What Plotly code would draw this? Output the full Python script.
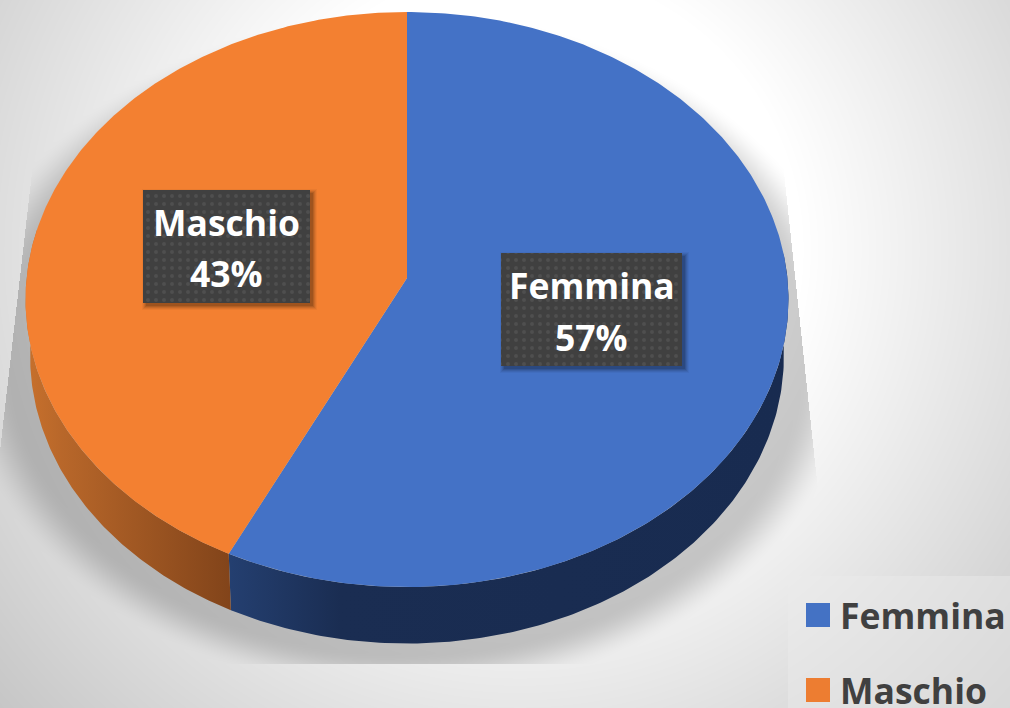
import numpy as np
import plotly.graph_objects as go

# ---- data ----
categories = ["Femmina", "Maschio"]
values = [57.2, 42.8]
top_colors = ["#4472C6", "#F38031"]
legend_colors = ["#4472C4", "#ED7D31"]

W, H = 1010, 708
CX, CY = 407.0, 278.0
A, B, K = 380.4, 285.9, 0.0748
DEPTH, SHRINK = 56.5, 0.988
FONT = "Open Sans"


def project(theta_deg):
    t = np.radians(np.asarray(theta_deg, dtype=float))
    w = 1 + K * np.cos(t)
    return CX + A * np.sin(t) / w, CY - B * np.cos(t) / w


def backdrop():
    yy, xx = np.mgrid[0:H, 0:W] + 0.5
    r = np.hypot(xx - 520, yy - 250)
    bg = np.clip(255 - (r - 280) * 0.138, 0, 255)
    # soft shadow under the pie, clipped to a trapezoid
    rho = np.hypot((xx - CX) / 381, (yy - (CY + 75)) / 290)
    d = (rho - 1) * 340
    s = np.clip(1 - (d - 12) / 50, 0, 1)
    s = s * s * (3 - 2 * s)
    inside = (yy < 664) & (xx < 788 + (yy - 210) * 0.107) & (xx > 30 - (yy - 190) * 0.115)
    out = bg * (1 - 0.2 * s * inside)
    # legend panel
    panel = (xx >= 788) & (yy >= 576)
    out = np.where(panel, 0.55 * bg + 0.45 * 235, out)
    return np.round(out).astype(np.uint8)


fig = go.Figure()
fig.add_trace(go.Heatmap(z=backdrop(), x0=0.5, dx=1, y0=0.5, dy=1,
                         colorscale=[[0, "#000000"], [1, "#ffffff"]], zmin=0, zmax=255,
                         showscale=False, hoverinfo="skip"))

# slice angles from the values
total = sum(values)
edges = np.cumsum([0] + values) / total * 360

# side walls
side_spec = [
    (85.0, edges[1], 230, 783,
     [[0, "#243F70"], [0.2, "#1A2D52"], [1, "#182B50"]]),
    (edges[1], 280.0, 32, 230,
     [[0, "#C56F2C"], [0.15, "#B8672A"], [1, "#82441A"]]),
]
for a0, a1, g0, g1, cs in side_spec:
    th = np.linspace(a0, a1, 160)
    x, y = project(th)
    xl = CX + (x - CX) * SHRINK
    yl = y + DEPTH
    fig.add_trace(go.Scatter(
        x=np.r_[x, xl[::-1]], y=np.r_[y, yl[::-1]], mode="lines", line=dict(width=0),
        fill="toself", fillgradient=dict(type="horizontal", start=g0, stop=g1, colorscale=cs),
        hoverinfo="skip", showlegend=False))

# top faces
for i, name in enumerate(categories):
    th = np.linspace(edges[i], edges[i + 1], 300)
    x, y = project(th)
    fig.add_trace(go.Scatter(
        x=np.r_[CX, x, CX], y=np.r_[CY, y, CY], mode="lines", line=dict(width=0),
        fill="toself", fillcolor=top_colors[i], name=name, hoverinfo="skip", showlegend=False))

# data labels
label_boxes = {"Femmina": (501, 682, 253, 366), "Maschio": (143, 310, 190, 303)}
label_y = {"Femmina": (285, 337), "Maschio": (222, 273)}
LABEL_SIZE = 35.5


def rect(x0, x1, y0, y1):
    return [x0, x1, x1, x0, x0], [y0, y0, y1, y1, y0]


for i, name in enumerate(categories):
    x0, x1, y0, y1 = label_boxes[name]
    for grow, op in [(4, 0.04), (3, 0.06), (2, 0.08), (1, 0.1), (0, 0.12)]:
        rx, ry = rect(x0 + 3 - grow, x1 + 3 + grow, y0 + 3 - grow, y1 + 3 + grow)
        fig.add_trace(go.Scatter(x=rx, y=ry, mode="lines", line=dict(width=0), fill="toself",
                                 fillcolor=f"rgba(0,0,0,{op})", hoverinfo="skip", showlegend=False))
    rx, ry = rect(x0, x1, y0, y1)
    fig.add_trace(go.Scatter(x=rx, y=ry, mode="lines", line=dict(width=0), fill="toself",
                             fillcolor="#404040",
                             fillpattern=dict(shape=".", size=8, solidity=0.18,
                                              bgcolor="#404040", fgcolor="#5E5E5E"),
                             hoverinfo="skip", showlegend=False))
    xc = (x0 + x1) / 2
    for txt, yy in zip([name, f"{round(values[i])}%"], label_y[name]):
        fig.add_annotation(x=xc, y=yy, text=f"<b>{txt}</b>", showarrow=False, xanchor="center",
                           yanchor="middle", font=dict(family=FONT, size=LABEL_SIZE, color="#FFFFFF"))

# legend
legend_y = [615, 690]
fig.add_trace(go.Scatter(x=[818, 818], y=legend_y, mode="markers",
                         marker=dict(symbol="square", size=24, color=legend_colors, line=dict(width=0)),
                         hoverinfo="skip", showlegend=False))
for name, yy in zip(categories, legend_y):
    fig.add_annotation(x=838, y=yy, text=f"<b>{name}</b>", showarrow=False, xanchor="left",
                       yanchor="middle", font=dict(family=FONT, size=35.5, color="#404040"))

fig.update_xaxes(range=[0, W], visible=False, fixedrange=True)
fig.update_yaxes(range=[H, 0], visible=False, fixedrange=True)
fig.update_layout(width=W, height=H, margin=dict(l=0, r=0, t=0, b=0), showlegend=False,
                  paper_bgcolor="#ffffff", plot_bgcolor="#ffffff", hovermode=False)
fig.write_html("out.html", config={"displayModeBar": False},
               post_script="document.body.style.margin='0';document.body.style.overflow='hidden';")
